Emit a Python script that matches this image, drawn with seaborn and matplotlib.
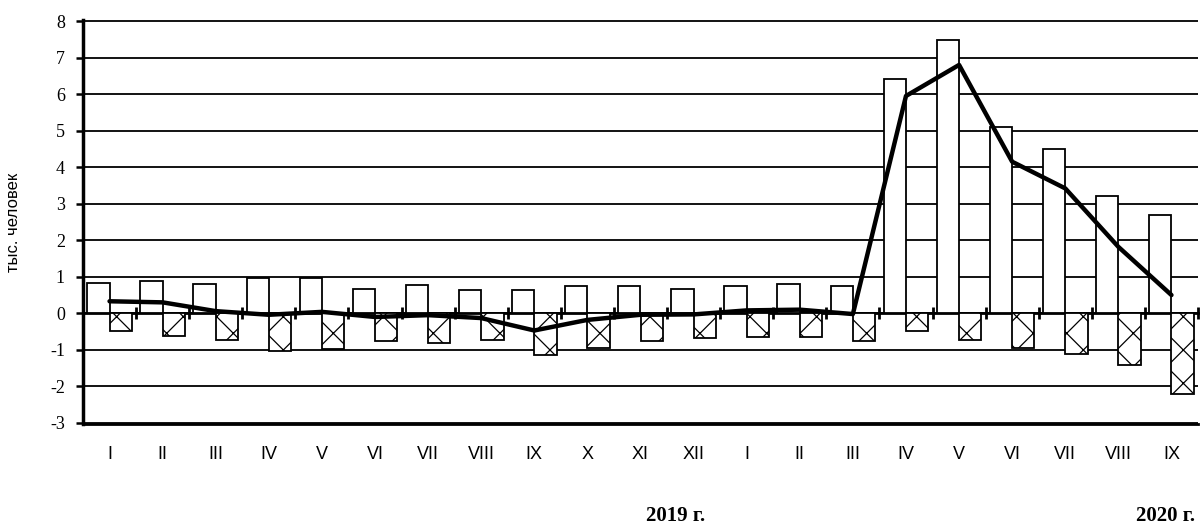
import numpy as np
import pandas as pd
import matplotlib
matplotlib.use("Agg")
import matplotlib.pyplot as plt
from matplotlib import font_manager
import seaborn as sns

# ----------------------------
# Data, thousand people
# ----------------------------
periods = ["2019-01", "2019-02", "2019-03", "2019-04", "2019-05", "2019-06",
           "2019-07", "2019-08", "2019-09", "2019-10", "2019-11", "2019-12",
           "2020-01", "2020-02", "2020-03", "2020-04", "2020-05", "2020-06",
           "2020-07", "2020-08", "2020-09"]
month_labels = ["I", "II", "III", "IV", "V", "VI", "VII", "VIII", "IX", "X", "XI", "XII",
                "I", "II", "III", "IV", "V", "VI", "VII", "VIII", "IX"]
inflow = [0.82, 0.89, 0.79, 0.96, 0.96, 0.66, 0.78, 0.63, 0.63, 0.74, 0.74, 0.66,
          0.74, 0.81, 0.74, 6.42, 7.49, 5.09, 4.50, 3.21, 2.70]
outflow = [-0.49, -0.61, -0.74, -1.04, -0.97, -0.76, -0.81, -0.74, -1.13, -0.94, -0.77, -0.68,
           -0.66, -0.66, -0.75, -0.49, -0.73, -0.94, -1.11, -1.41, -2.21]
net = [0.33, 0.30, 0.06, -0.04, 0.04, -0.10, -0.05, -0.13, -0.47, -0.18, -0.04, -0.03,
       0.08, 0.10, -0.02, 5.95, 6.80, 4.15, 3.42, 1.82, 0.50]
year_labels = ["2019 г.", "2020 г."]
y_label = "тыс. человек"

# ----------------------------
# Style
# ----------------------------
sns.set_theme(style="white")


def pick_font(names):
    for name in names:
        try:
            font_manager.findfont(name, fallback_to_default=False)
            return name
        except Exception:
            continue
    return "DejaVu Sans"


sans = pick_font(["Liberation Sans Narrow", "Liberation Sans", "DejaVu Sans"])
serif = pick_font(["Liberation Serif", "DejaVu Serif"])
plt.rcParams["font.family"] = [sans, "DejaVu Sans"]
plt.rcParams["text.color"] = "black"
plt.rcParams["axes.labelcolor"] = "black"
plt.rcParams["xtick.color"] = "black"
plt.rcParams["ytick.color"] = "black"
plt.rcParams["hatch.linewidth"] = 0.9
plt.rcParams["hatch.color"] = "#333333"

df = pd.DataFrame({
    "period": periods * 2,
    "value": inflow + outflow,
    "kind": ["in"] * len(periods) + ["out"] * len(periods),
})

fig = plt.figure(figsize=(12.04, 5.31), dpi=100)
ax = fig.add_axes([83 / 1204, 107 / 531, 1115 / 1204, 404 / 531])

sns.barplot(data=df, x="period", y="value", hue="kind", order=periods,
            hue_order=["in", "out"], palette=["white", "white"], width=0.84,
            edgecolor="black", linewidth=1.3, legend=False, ax=ax, zorder=3)
for bar in ax.containers[1]:
    bar.set_hatch("x")

sns.lineplot(x=np.arange(len(periods)), y=net, color="black", linewidth=3.2,
             ax=ax, zorder=5)

ylo, yhi = -3.03, 8.03
ax.set_ylim(ylo, yhi)
ax.set_xlim(-0.5, len(periods) - 0.5)

# horizontal grid
ax.set_yticks(range(-3, 9))
ax.set_yticklabels([str(v) for v in range(-3, 9)], fontfamily=serif, fontsize=13)
ax.grid(axis="y", color="black", linewidth=1.3, zorder=0)
ax.set_axisbelow(True)

# spines
for side in ["top", "right"]:
    ax.spines[side].set_visible(False)
ax.spines["left"].set_linewidth(2.5)
ax.spines["left"].set_color("black")
ax.spines["bottom"].set_linewidth(2.0)
ax.spines["bottom"].set_color("black")
ax.tick_params(axis="y", direction="out", length=5, width=1.8, color="black",
               labelcolor="black", left=True, pad=8)

# month labels at bottom, no tick marks
ax.set_xticks(np.arange(len(periods)))
ax.set_xticklabels(month_labels, fontsize=13)
ax.tick_params(axis="x", length=0, pad=16, labelcolor="black")
ax.set_xlabel("")

# zero line with ticks at category boundaries
sec = ax.secondary_xaxis((0 - ylo) / (yhi - ylo))
sec.set_xticks(np.arange(len(periods)) + 0.5)
sec.set_xticklabels([])
sec.tick_params(axis="x", direction="inout", length=9, width=2, color="black")
sec.spines["bottom"].set_linewidth(2.0)
sec.spines["bottom"].set_color("black")

ax.set_ylabel(y_label, fontsize=12, color="black")
ax.yaxis.set_label_coords(-0.056, 0.5)

fig.text(676 / 1204, 0.028, year_labels[0], ha="center", va="center", color="black",
         fontfamily=serif, fontweight="bold", fontsize=15)
fig.text(1166 / 1204, 0.028, year_labels[1], ha="center", va="center", color="black",
         fontfamily=serif, fontweight="bold", fontsize=15)

fig.savefig("out.png", dpi=100, facecolor="white")
